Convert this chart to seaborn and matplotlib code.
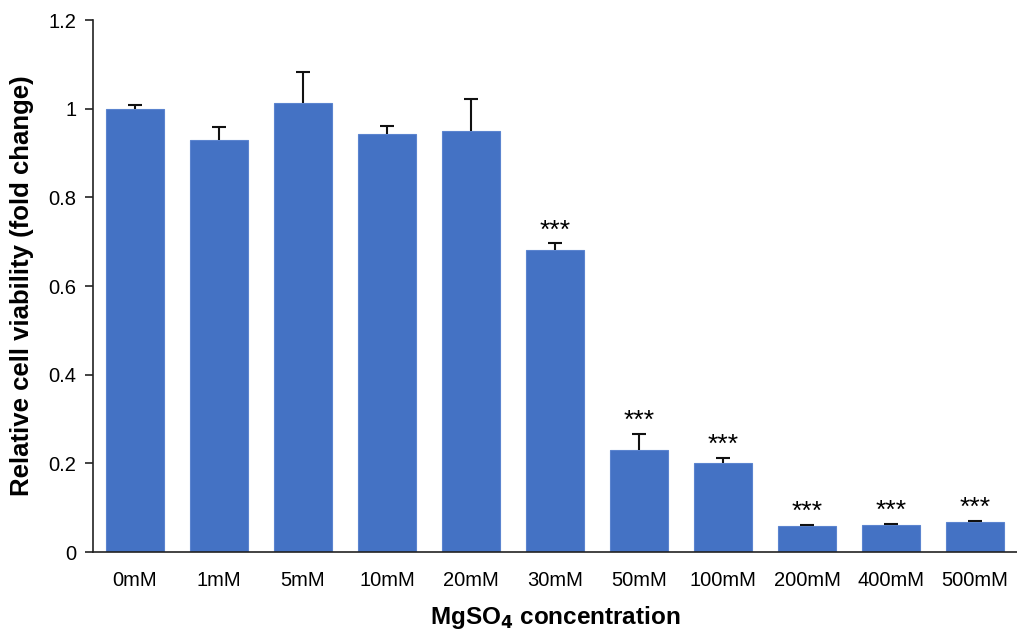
import numpy as np
import pandas as pd
import matplotlib
matplotlib.use("Agg")
import matplotlib.pyplot as plt
import seaborn as sns

# values
concentrations = ['0mM', '1mM', '5mM', '10mM', '20mM', '30mM', '50mM',
                  '100mM', '200mM', '400mM', '500mM']
viability = [1.0, 0.929, 1.012, 0.942, 0.949, 0.681, 0.231, 0.201, 0.059, 0.061, 0.067]
err_up = [0.008, 0.030, 0.070, 0.018, 0.072, 0.015, 0.035, 0.011, 0.002, 0.002, 0.003]
significant = [False, False, False, False, False, True, True, True, True, True, True]
y_ticks = [0, 0.2, 0.4, 0.6, 0.8, 1.0, 1.2]
y_tick_labels = ['0', '0.2', '0.4', '0.6', '0.8', '1', '1.2']

df = pd.DataFrame({'conc': concentrations, 'viability': viability, 'err': err_up})

sns.set_style("white")
plt.rcParams['font.family'] = ['Liberation Sans', 'DejaVu Sans']
plt.rcParams['text.color'] = 'black'
plt.rcParams['axes.labelcolor'] = 'black'
plt.rcParams['xtick.color'] = 'black'
plt.rcParams['ytick.color'] = 'black'

fig = plt.figure(figsize=(10.17, 6.36), dpi=100)
ax = fig.add_axes([93 / 1017, 1 - 552 / 636, 1 - 93 / 1017, (552 - 20) / 636])

sns.barplot(data=df, x='conc', y='viability', color='#4472C4', width=0.7,
            edgecolor='#5b84cf', linewidth=0.8, saturation=1, ax=ax)

xpos = np.arange(len(df))
line, caps, bars = ax.errorbar(xpos, df['viability'], yerr=[np.zeros(len(df)), df['err']],
                               fmt='none', ecolor='#111111', elinewidth=1.5,
                               capsize=5, capthick=1.5)
# only the upper cap is drawn in the reference
caps[0].set_visible(False)

for x, v, e, s in zip(xpos, df['viability'], df['err'], significant):
    if s:
        ax.text(x, v + e + 0.002, '***', ha='center', va='bottom', fontsize=19)

ax.set_ylim(0, 1.2)
ax.set_xlim(-0.5, 10.43)
ax.set_yticks(y_ticks)
ax.set_yticklabels(y_tick_labels, fontsize=14.5)

# category ticks between bars, Excel style
ax.set_xticks(xpos)
ax.set_xticklabels(concentrations, fontsize=14.5)
ax.tick_params(axis='x', which='major', length=0, pad=14)
ax.set_xticks(np.arange(-0.5, 10.6, 1), minor=True)
ax.tick_params(axis='x', which='minor', length=6, width=1.2, color='#222222', direction='out')
ax.tick_params(axis='y', length=6, width=1.2, color='#222222', direction='out', left=True, pad=6)

for side in ['top', 'right']:
    ax.spines[side].set_visible(False)
for side in ['left', 'bottom']:
    ax.spines[side].set_color('#222222')
    ax.spines[side].set_linewidth(1.2)

ax.set_xlabel('MgSO$_\\mathbf{4}$ concentration', fontsize=17.5, fontweight='bold', labelpad=10)
ax.set_ylabel('Relative cell viability (fold change)', fontsize=18.5, fontweight='bold', labelpad=10)

fig.savefig('out.png', dpi=100)
